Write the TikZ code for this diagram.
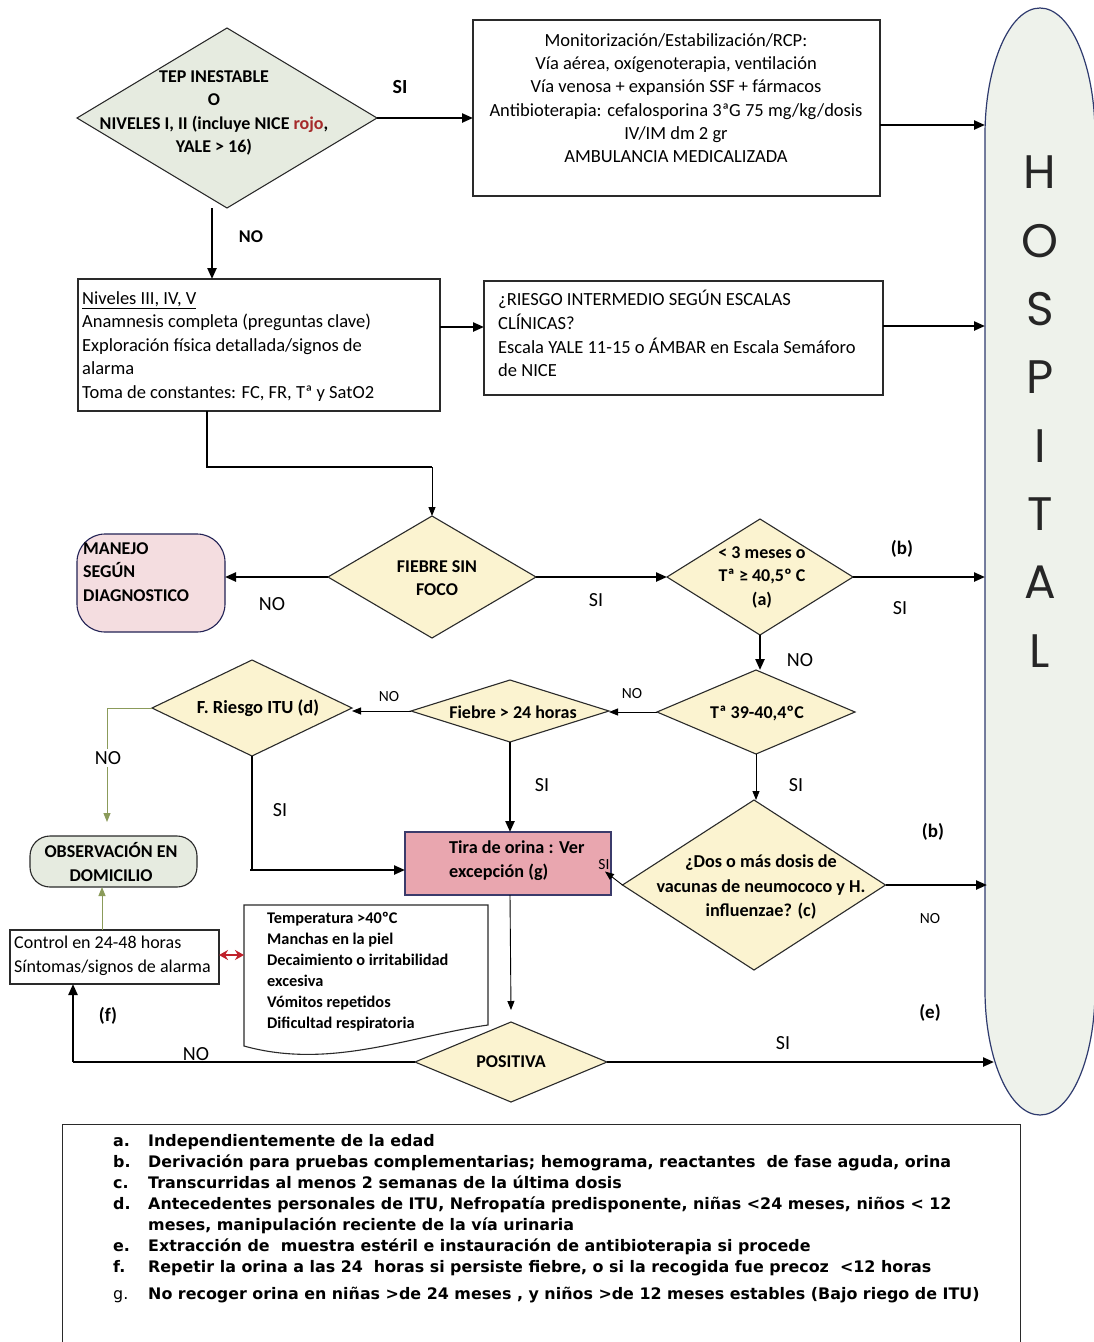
\documentclass[tikz,border=0pt]{standalone}
\usepackage{fontspec}
\setmainfont{Carlito}
\newfontfamily\notesfont{DejaVu Sans}
\newfontfamily\hospfont{Poppins}
\usetikzlibrary{shapes.geometric,arrows.meta}
\definecolor{diaedge}{HTML}{2A2A2A}
\definecolor{yelfill}{HTML}{FBF3D0}
\definecolor{grnfill}{HTML}{E6EBE0}
\definecolor{pinkfill}{HTML}{F4DDE0}
\definecolor{tirafill}{HTML}{E9A6AF}
\definecolor{tiraedge}{HTML}{3B3B6B}
\definecolor{hospfill}{HTML}{EEF2EB}
\definecolor{hospedge}{HTML}{2E3A6E}
\definecolor{olive}{HTML}{8B9B5A}
\definecolor{redarr}{HTML}{C0202A}
\definecolor{rojo}{HTML}{A52A2A}
\begin{document}
\begin{tikzpicture}[x=1pt,y=-1pt,
  dia/.style={diamond,draw=diaedge,line width=1.1pt,inner sep=0pt,outer sep=0pt,fill=yelfill},
  box/.style={draw=diaedge,line width=1.1pt,inner sep=0pt,outer sep=0pt,fill=white,anchor=north west},
  arr/.style={-{Triangle[length=11pt,width=9pt]},line width=2.3pt},
  thick2/.style={line width=2.3pt},
  tarr/.style={-{Triangle[length=9pt,width=7pt]},line width=0.9pt},
  oarr/.style={-{Triangle[length=9pt,width=7pt]},line width=1pt,draw=olive,fill=olive},
  tb/.style={font=\bfseries\fontsize{18}{23.5}\selectfont,align=center,inner sep=0pt},
  tr/.style={font=\fontsize{18.5}{23.3}\selectfont,align=center,inner sep=0pt},
  tl/.style={font=\fontsize{18.5}{23.5}\selectfont,align=left,inner sep=0pt,anchor=north west},
  lab/.style={font=\fontsize{20}{22}\selectfont,inner sep=0pt},
  labb/.style={font=\bfseries\fontsize{19}{21}\selectfont,inner sep=0pt},
  labs/.style={font=\fontsize{15.5}{17}\selectfont,inner sep=0pt},
]
\useasboundingbox[fill=white] (0,0) rectangle (1093,1342);

% HOSPITAL
\draw[fill=hospfill,draw=hospedge,line width=1.2pt] (985,135)
  arc[start angle=180,end angle=270,x radius=55,y radius=127]
  arc[start angle=270,end angle=360,x radius=55,y radius=127]
  -- (1095,990)
  arc[start angle=0,end angle=90,x radius=55,y radius=125]
  arc[start angle=90,end angle=180,x radius=55,y radius=125] -- cycle;
\node[font=\hospfont\fontsize{47}{68.3}\selectfont,align=center,inner sep=0pt,anchor=north,text=black!85] (hosp) at (1040,156) {H\\O\\S\\P\\I\\T\\A\\L};
\coordinate (h1) at (985,125);
\coordinate (h2) at (985,326);
\coordinate (h3) at (985,577);
\coordinate (h4) at (987,885);
\coordinate (h5) at (994,1062);

% top diamond
\node[dia,fill=grnfill,minimum width=300,minimum height=180] (d1) at (227,118) {};
\node[tb] (d1t) at (214,113) {TEP INESTABLE\\O\\NIVELES I, II (incluye NICE \textcolor{rojo}{rojo},\\YALE > 16)};

% box 1
\node[box,minimum width=407,minimum height=176] (b1) at (473,20) {};
\node[tr] (b1t) at (676,98) {Monitorización/Estabilización/RCP:\\Vía aérea, oxígenoterapia, ventilación\\Vía venosa + expansión SSF + fármacos\\Antibioterapia: cefalosporina 3ªG 75 mg/kg/dosis\\IV/IM dm 2 gr\\AMBULANCIA MEDICALIZADA};

% box 2
\node[box,minimum width=362,minimum height=132] (b2) at (78,279) {};
\node[tl] (b2t) at (82,291) {\underline{Niveles III, IV, V}\\Anamnesis completa (preguntas clave)\\Exploración física detallada/signos de\\alarma\\Toma de constantes: FC, FR, Tª y SatO2};

% box 3
\node[box,minimum width=399,minimum height=114] (b3) at (484,281) {};
\node[tl,font=\fontsize{18.5}{23.7}\selectfont] (b3t) at (498,290) {¿RIESGO INTERMEDIO SEGÚN ESCALAS\\CLÍNICAS?\\Escala YALE 11-15 o ÁMBAR en Escala Semáforo\\de NICE};

% fiebre sin foco
\node[dia,minimum width=208,minimum height=122] (fsf) at (432,577) {};
\node[tb] (fsft) at (437,578) {FIEBRE SIN\\FOCO};

% manejo
\node[box,fill=pinkfill,draw=diaedge!80!blue,rounded corners=28pt,minimum width=148,minimum height=98] (man) at (77,534) {};
\node[tl,font=\bfseries\fontsize{18}{23.5}\selectfont] (mant) at (83,542) {MANEJO\\SEGÚN\\DIAGNOSTICO};

% < 3 meses
\node[dia,minimum width=186,minimum height=116] (d3) at (760,577) {};
\node[tb] (d3t) at (762,577) {< 3 meses o\\Tª ≥ 40,5º C\\(a)};

% T 39-40,4
\node[dia,minimum width=198,minimum height=84] (d4) at (756,712) {};
\node[tb] (d4t) at (757,713) {Tª 39-40,4ºC};

% Fiebre > 24 horas
\node[dia,minimum width=198,minimum height=62] (d5) at (510,711) {};
\node[tb] (d5t) at (513,712) {Fiebre > 24 horas};

% F. Riesgo ITU
\node[dia,minimum width=200,minimum height=96] (d6) at (252,708) {};
\node[tb,font=\bfseries\fontsize{18.5}{20}\selectfont] (d6t) at (258,708) {F. Riesgo ITU (d)};

% observacion
\node[box,fill=grnfill,rounded corners=20pt,minimum width=167,minimum height=51] (obs) at (30,836) {};
\node[tb] (obst) at (111,862) {OBSERVACIÓN EN\\DOMICILIO};

% tira de orina
\node[box,fill=tirafill,draw=tiraedge,minimum width=206,minimum height=63] (tira) at (405,832) {};
\node[tl,font=\bfseries\fontsize{18.2}{24}\selectfont] (tirat) at (449,841) {Tira de orina : Ver\\excepción (g)};

% vacunas
\node[dia,minimum width=263,minimum height=170] (d7) at (754,885) {};
\node[tb,font=\bfseries\fontsize{18.2}{24.5}\selectfont] (d7t) at (761,887) {¿Dos o más dosis de\\vacunas de neumococo y H.\\influenzae? (c)};

% positiva
\node[dia,minimum width=192,minimum height=80] (pos) at (511,1062) {};
\node[tb] (post) at (511,1062) {POSITIVA};

% control
\node[box,minimum width=209,minimum height=54] (ctrl) at (10,930) {};
\node[tl,font=\fontsize{18}{24}\selectfont] (ctrlt) at (14,936) {Control en 24-48 horas\\Síntomas/signos de alarma};

% note (document shape)
\draw[fill=white,draw=diaedge,line width=1.1pt] (244,905) -- (488,905) -- (488,1025)
  .. controls (410,1036) and (330,1070) .. (244,1046) -- cycle;
\coordinate (notel) at (244,955);
\node[tl,font=\bfseries\fontsize{16.3}{21}\selectfont] (notet) at (267,912) {Temperatura >40ºC\\Manchas en la piel\\Decaimiento o irritabilidad\\excesiva\\Vómitos repetidos\\Dificultad respiratoria};

% notes box
\draw[line width=1pt,draw=diaedge] (62,1345) -- (62,1124) -- (1020,1124) -- (1020,1345);
\node[inner sep=0pt,anchor=north west,font=\notesfont\bfseries\fontsize{15.9}{21}\selectfont] (notes) at (113,1132) {%
\begin{tabular}{@{}p{35pt}@{}l@{}}
a. & Independientemente de la edad\\
b. & Derivación para pruebas complementarias; hemograma, reactantes\ \ de fase aguda, orina\\
c. & Transcurridas al menos 2 semanas de la última dosis\\
d. & Antecedentes personales de ITU, Nefropatía predisponente, niñas <24 meses, niños < 12\\
   & meses, manipulación reciente de la vía urinaria\\
e. & Extracción de\ \ muestra estéril e instauración de antibioterapia si procede\\
f. & Repetir la orina a las 24\ \ horas si persiste fiebre, o si la recogida fue precoz\ \ <12 horas\\[6pt]
{\mdseries g.} & No recoger orina en niñas >de 24 meses , y niños >de 12 meses estables (Bajo riego de ITU)
\end{tabular}};

% ---------- connectors ----------
\coordinate (k0) at (212,0);
\draw[arr] (d1.east) -- (d1.east -| b1.west);
\draw[arr] (d1.south -| k0) -- (b2.north -| k0);
\draw[arr] (b1.east |- h1) -- (h1);
\coordinate (r2) at (460,327);
\draw[arr] (b2.east |- r2) -- (b3.west |- r2);
\draw[arr] (b3.east |- h2) -- (h2);
\coordinate (k1) at (207,467);
\draw[thick2] (b2.south -| k1) -- (k1) -- (k1 -| fsf.north);
\draw[tarr] (k1 -| fsf.north) -- (fsf.north);
\draw[arr] (fsf.west) -- (man.east |- fsf.west);
\draw[arr] (fsf.east) -- (d3.west);
\draw[arr] (d3.east) -- (h3);
\draw[arr] (d3.south) -- (d3.south |- d4.north);
\draw[tarr] (d4.west) -- (d4.west -| d5.east);
\draw[tarr] (d5.west) -- (d5.west -| d6.east);
\coordinate (g1) at (107,708);
\draw[olive,line width=1pt] (d6.west) -- (g1);
\draw[oarr] (g1) -- ([yshift=14pt]obs.north -| g1);
\coordinate (k2) at (250,870);
\draw[thick2] (d6.south) -- (d6.south |- k2);
\draw[arr] (k2) -- (k2 -| tira.west);
\draw[arr] (d5.south) -- (d5.south |- tira.north);
\draw[tarr] (d4.south) -- (d4.south |- d7.north);
\draw[tarr] (d7.west) -- ([xshift=-6pt,yshift=-8pt]tira.east);
\draw[arr] (d7.east) -- (h4);
\draw[tarr] (d5.south |- tira.south) -- ([yshift=12pt]pos.north);
\draw[arr] (pos.east) -- (h5);
\coordinate (k3) at (73,1062);
\draw[thick2] (pos.west) -- (k3);
\draw[arr] (k3) -- (k3 |- ctrl.south);
\coordinate (k4) at (102,930);
\draw[oarr] (k4) -- (obs.south -| k4);
\draw[{Stealth[length=9pt,width=10pt]}-{Stealth[length=9pt,width=10pt]},draw=redarr,fill=redarr,line width=2pt] (ctrl.east |- notel) -- (notel);

% ---------- labels ----------
\node[lab,font=\bfseries\fontsize{20}{22}\selectfont] (l1) at (400,87) {SI};
\node[lab,font=\bfseries\fontsize{18}{20}\selectfont] (l2) at (251,237) {NO};
\node[lab] (l3) at (272,604) {NO};
\node[lab] (l4) at (596,600) {SI};
\node[labb] (l5) at (902,549) {(b)};
\node[lab] (l6) at (900,608) {SI};
\node[lab] (l7) at (800,660) {NO};
\node[labs] (l8) at (632,694) {NO};
\node[labs] (l9) at (389,697) {NO};
\node[lab,fill=white,inner sep=2pt] (l10) at (108,758) {NO};
\node[lab] (l11) at (542,785) {SI};
\node[lab] (l12) at (796,785) {SI};
\node[lab] (l13) at (280,810) {SI};
\node[labb] (l14) at (933,832) {(b)};
\node[labs] (l15) at (604,865) {SI};
\node[labs] (l16) at (930,919) {NO};
\node[labb] (l17) at (108,1016) {(f)};
\node[labb] (l18) at (930,1013) {(e)};
\node[lab] (l19) at (783,1043) {SI};
\node[lab] (l20) at (196,1054) {NO};
\end{tikzpicture}
\end{document}
